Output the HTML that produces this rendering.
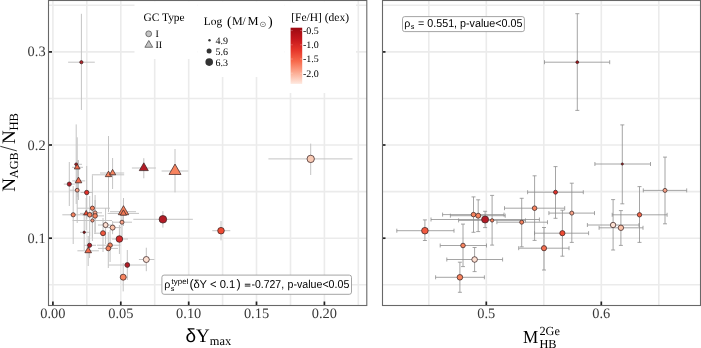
<!DOCTYPE html>
<html><head><meta charset="utf-8"><title>plot</title>
<style>html,body{margin:0;padding:0;background:#fff;width:701px;height:348px;overflow:hidden}svg{display:block;will-change:transform}text{text-rendering:geometricPrecision}</style>
</head><body>
<svg width="701" height="348" viewBox="0 0 701 348">
<rect width="701" height="348" fill="#fff"/>
<line x1="52.9" y1="0" x2="52.9" y2="305" stroke="#ebebeb" stroke-width="1.6"/>
<line x1="86.8" y1="0" x2="86.8" y2="305" stroke="#ebebeb" stroke-width="1.6"/>
<line x1="120.8" y1="0" x2="120.8" y2="305" stroke="#ebebeb" stroke-width="1.6"/>
<line x1="154.7" y1="0" x2="154.7" y2="305" stroke="#ebebeb" stroke-width="1.6"/>
<line x1="188.7" y1="0" x2="188.7" y2="305" stroke="#ebebeb" stroke-width="1.6"/>
<line x1="222.6" y1="0" x2="222.6" y2="305" stroke="#ebebeb" stroke-width="1.6"/>
<line x1="256.5" y1="0" x2="256.5" y2="305" stroke="#ebebeb" stroke-width="1.6"/>
<line x1="290.5" y1="0" x2="290.5" y2="305" stroke="#ebebeb" stroke-width="1.6"/>
<line x1="324.4" y1="0" x2="324.4" y2="305" stroke="#ebebeb" stroke-width="1.6"/>
<line x1="358.3" y1="0" x2="358.3" y2="305" stroke="#ebebeb" stroke-width="1.6"/>
<line x1="48" y1="284.8" x2="367" y2="284.8" stroke="#ebebeb" stroke-width="1.6"/>
<line x1="48" y1="238.2" x2="367" y2="238.2" stroke="#ebebeb" stroke-width="1.6"/>
<line x1="48" y1="191.6" x2="367" y2="191.6" stroke="#ebebeb" stroke-width="1.6"/>
<line x1="48" y1="145.0" x2="367" y2="145.0" stroke="#ebebeb" stroke-width="1.6"/>
<line x1="48" y1="98.5" x2="367" y2="98.5" stroke="#ebebeb" stroke-width="1.6"/>
<line x1="48" y1="51.9" x2="367" y2="51.9" stroke="#ebebeb" stroke-width="1.6"/>
<line x1="48" y1="5.3" x2="367" y2="5.3" stroke="#ebebeb" stroke-width="1.6"/>
<line x1="428.8" y1="0" x2="428.8" y2="305" stroke="#ebebeb" stroke-width="1.6"/>
<line x1="486.3" y1="0" x2="486.3" y2="305" stroke="#ebebeb" stroke-width="1.6"/>
<line x1="543.8" y1="0" x2="543.8" y2="305" stroke="#ebebeb" stroke-width="1.6"/>
<line x1="601.3" y1="0" x2="601.3" y2="305" stroke="#ebebeb" stroke-width="1.6"/>
<line x1="658.8" y1="0" x2="658.8" y2="305" stroke="#ebebeb" stroke-width="1.6"/>
<line x1="382" y1="284.8" x2="700" y2="284.8" stroke="#ebebeb" stroke-width="1.6"/>
<line x1="382" y1="238.2" x2="700" y2="238.2" stroke="#ebebeb" stroke-width="1.6"/>
<line x1="382" y1="191.6" x2="700" y2="191.6" stroke="#ebebeb" stroke-width="1.6"/>
<line x1="382" y1="145.0" x2="700" y2="145.0" stroke="#ebebeb" stroke-width="1.6"/>
<line x1="382" y1="98.5" x2="700" y2="98.5" stroke="#ebebeb" stroke-width="1.6"/>
<line x1="382" y1="51.9" x2="700" y2="51.9" stroke="#ebebeb" stroke-width="1.6"/>
<line x1="382" y1="5.3" x2="700" y2="5.3" stroke="#ebebeb" stroke-width="1.6"/>
<g stroke="#c4c4c4" stroke-width="1.0"><line x1="68.1" y1="62.2" x2="94.8" y2="62.2"/>
<line x1="81.4" y1="13.8" x2="81.4" y2="110.0"/>
<line x1="74.2" y1="164.3" x2="82.0" y2="164.3"/>
<line x1="76.2" y1="124.4" x2="76.2" y2="204.0"/>
<line x1="72.0" y1="167.3" x2="83.0" y2="167.3"/>
<line x1="77.2" y1="137.3" x2="77.2" y2="197.0"/>
<line x1="72.2" y1="180.9" x2="85.2" y2="180.9"/>
<line x1="78.5" y1="160.0" x2="78.5" y2="200.0"/>
<line x1="63.8" y1="184.1" x2="74.8" y2="184.1"/>
<line x1="69.3" y1="162.0" x2="69.3" y2="206.0"/>
<line x1="69.6" y1="190.2" x2="79.4" y2="190.2"/>
<line x1="77.2" y1="160.0" x2="77.2" y2="223.0"/>
<line x1="80.7" y1="192.5" x2="93.0" y2="192.5"/>
<line x1="86.7" y1="166.0" x2="86.7" y2="219.0"/>
<line x1="91.9" y1="174.8" x2="124.2" y2="174.8"/>
<line x1="108.5" y1="136.0" x2="108.5" y2="212.0"/>
<line x1="100.0" y1="173.0" x2="124.2" y2="173.0"/>
<line x1="112.6" y1="158.0" x2="112.6" y2="189.0"/>
<line x1="77.2" y1="208.2" x2="110.0" y2="208.2"/>
<line x1="92.4" y1="175.3" x2="92.4" y2="241.0"/>
<line x1="62.3" y1="214.8" x2="84.0" y2="214.8"/>
<line x1="73.2" y1="186.0" x2="73.2" y2="244.0"/>
<line x1="80.0" y1="213.4" x2="93.0" y2="213.4"/>
<line x1="86.2" y1="198.0" x2="86.2" y2="230.0"/>
<line x1="82.0" y1="214.8" x2="98.0" y2="214.8"/>
<line x1="89.7" y1="196.0" x2="89.7" y2="236.0"/>
<line x1="88.0" y1="212.8" x2="102.0" y2="212.8"/>
<line x1="95.1" y1="195.0" x2="95.1" y2="232.0"/>
<line x1="86.0" y1="215.9" x2="104.0" y2="215.9"/>
<line x1="95.1" y1="200.0" x2="95.1" y2="234.0"/>
<line x1="72.6" y1="220.5" x2="112.0" y2="220.5"/>
<line x1="92.4" y1="205.0" x2="92.4" y2="238.0"/>
<line x1="80.0" y1="232.3" x2="90.0" y2="232.3"/>
<line x1="84.2" y1="215.0" x2="84.2" y2="250.0"/>
<line x1="94.0" y1="233.2" x2="106.0" y2="233.2"/>
<line x1="103.0" y1="218.0" x2="103.0" y2="252.0"/>
<line x1="112.0" y1="239.0" x2="128.0" y2="239.0"/>
<line x1="119.4" y1="225.0" x2="119.4" y2="254.0"/>
<line x1="84.0" y1="245.3" x2="96.0" y2="245.3"/>
<line x1="89.6" y1="232.0" x2="89.6" y2="258.0"/>
<line x1="77.4" y1="250.8" x2="98.9" y2="250.8"/>
<line x1="88.2" y1="236.0" x2="88.2" y2="266.0"/>
<line x1="97.0" y1="245.2" x2="120.4" y2="245.2"/>
<line x1="110.1" y1="230.0" x2="110.1" y2="262.0"/>
<line x1="98.0" y1="248.4" x2="118.0" y2="248.4"/>
<line x1="108.3" y1="232.0" x2="108.3" y2="268.0"/>
<line x1="108.1" y1="265.0" x2="146.3" y2="265.0"/>
<line x1="127.3" y1="250.0" x2="127.3" y2="280.0"/>
<line x1="138.9" y1="259.5" x2="154.4" y2="259.5"/>
<line x1="146.3" y1="247.7" x2="146.3" y2="271.2"/>
<line x1="120.4" y1="277.2" x2="127.9" y2="277.2"/>
<line x1="123.2" y1="263.0" x2="123.2" y2="291.4"/>
<line x1="98.0" y1="225.0" x2="114.0" y2="225.0"/>
<line x1="105.6" y1="208.0" x2="105.6" y2="244.0"/>
<line x1="104.0" y1="227.6" x2="121.0" y2="227.6"/>
<line x1="112.6" y1="221.0" x2="112.6" y2="234.2"/>
<line x1="113.0" y1="222.2" x2="132.0" y2="222.2"/>
<line x1="122.0" y1="210.0" x2="122.0" y2="236.0"/>
<line x1="110.0" y1="211.7" x2="136.0" y2="211.7"/>
<line x1="123.5" y1="198.0" x2="123.5" y2="226.0"/>
<line x1="107.6" y1="213.4" x2="139.0" y2="213.4"/>
<line x1="123.4" y1="200.0" x2="123.4" y2="226.0"/>
<line x1="131.9" y1="168.0" x2="155.9" y2="168.0"/>
<line x1="143.8" y1="158.2" x2="143.8" y2="178.3"/>
<line x1="161.6" y1="171.0" x2="188.2" y2="171.0"/>
<line x1="175.0" y1="149.0" x2="175.0" y2="192.4"/>
<line x1="133.3" y1="219.3" x2="192.9" y2="219.3"/>
<line x1="162.9" y1="211.2" x2="162.9" y2="227.6"/>
<line x1="212.3" y1="230.7" x2="230.3" y2="230.7"/>
<line x1="221.0" y1="221.0" x2="221.0" y2="240.4"/>
<line x1="268.4" y1="158.9" x2="352.5" y2="158.9"/>
<line x1="310.7" y1="143.6" x2="310.7" y2="175.0"/></g>
<g stroke="#3c2626" stroke-width="0.75"><circle cx="81.4" cy="62.2" r="1.6" fill="#b8232a"/>
<circle cx="76.2" cy="164.3" r="1.4" fill="#b31b26"/>
<polygon points="77.20,163.95 74.30,168.97 80.10,168.97" fill="#f26a4b"/>
<polygon points="78.50,177.09 75.20,182.81 81.80,182.81" fill="#f26a4b"/>
<circle cx="69.3" cy="184.1" r="2.1" fill="#b31b26"/>
<circle cx="77.2" cy="190.2" r="1.9" fill="#fba488"/>
<circle cx="86.7" cy="192.5" r="2.2" fill="#e0302a"/>
<polygon points="108.50,171.10 105.30,176.65 111.70,176.65" fill="#f8845f"/>
<polygon points="112.60,169.42 109.50,174.79 115.70,174.79" fill="#f8845f"/>
<circle cx="92.4" cy="208.2" r="2.1" fill="#f8845f"/>
<circle cx="73.2" cy="214.8" r="2.1" fill="#f8845f"/>
<polygon points="86.20,210.40 83.60,214.90 88.80,214.90" fill="#ec4a30"/>
<circle cx="89.7" cy="214.8" r="2.3" fill="#f8845f"/>
<circle cx="95.1" cy="212.8" r="1.9" fill="#fba488"/>
<circle cx="95.1" cy="215.9" r="2.3" fill="#f8845f"/>
<circle cx="92.4" cy="220.5" r="1.6" fill="#f79070"/>
<circle cx="84.2" cy="232.3" r="1.2" fill="#8b0e15"/>
<circle cx="103.0" cy="233.2" r="2.5" fill="#f2593f"/>
<circle cx="119.4" cy="239.0" r="3.3" fill="#d42a2c"/>
<circle cx="89.6" cy="245.3" r="2.1" fill="#b31b26"/>
<polygon points="88.20,246.99 84.90,252.71 91.50,252.71" fill="#f26a4b"/>
<circle cx="110.1" cy="245.2" r="2.3" fill="#f8845f"/>
<circle cx="108.3" cy="248.4" r="2.4" fill="#f8845f"/>
<circle cx="127.3" cy="265.0" r="2.4" fill="#b31b26"/>
<circle cx="146.3" cy="259.5" r="3.0" fill="#fde0d2"/>
<circle cx="123.2" cy="277.2" r="3.0" fill="#f8845f"/>
<circle cx="105.6" cy="225.0" r="2.5" fill="#fde0d2"/>
<circle cx="112.6" cy="227.6" r="2.5" fill="#fcc2a8"/>
<circle cx="122.0" cy="222.2" r="2.0" fill="#fba488"/>
<polygon points="123.50,205.70 118.30,214.70 128.70,214.70" fill="#f8845f"/>
<polygon points="123.40,209.82 120.30,215.19 126.50,215.19" fill="#f27a55"/>
<polygon points="143.80,162.80 139.30,170.60 148.30,170.60" fill="#b31b26"/>
<polygon points="175.00,164.07 169.00,174.46 181.00,174.46" fill="#f8845f"/>
<circle cx="162.9" cy="219.3" r="3.8" fill="#b31b26"/>
<circle cx="221.0" cy="230.7" r="3.3" fill="#ef4a33"/>
<circle cx="310.7" cy="158.9" r="3.7" fill="#f9cab4"/></g>
<g stroke="#8e8e8e" stroke-width="0.8"><line x1="544.5" y1="62.2" x2="609.7" y2="62.2"/>
<line x1="544.5" y1="60.2" x2="544.5" y2="64.2"/>
<line x1="609.7" y1="60.2" x2="609.7" y2="64.2"/>
<line x1="577.3" y1="13.7" x2="577.3" y2="110.4"/>
<line x1="575.3" y1="13.7" x2="579.3" y2="13.7"/>
<line x1="575.3" y1="110.4" x2="579.3" y2="110.4"/>
<line x1="594.9" y1="164.0" x2="650.5" y2="164.0"/>
<line x1="594.9" y1="162.0" x2="594.9" y2="166.0"/>
<line x1="650.5" y1="162.0" x2="650.5" y2="166.0"/>
<line x1="622.3" y1="124.9" x2="622.3" y2="203.8"/>
<line x1="620.3" y1="124.9" x2="624.3" y2="124.9"/>
<line x1="620.3" y1="203.8" x2="624.3" y2="203.8"/>
<line x1="643.3" y1="190.4" x2="686.7" y2="190.4"/>
<line x1="643.3" y1="188.4" x2="643.3" y2="192.4"/>
<line x1="686.7" y1="188.4" x2="686.7" y2="192.4"/>
<line x1="665.0" y1="157.1" x2="665.0" y2="223.8"/>
<line x1="663.0" y1="157.1" x2="667.0" y2="157.1"/>
<line x1="663.0" y1="223.8" x2="667.0" y2="223.8"/>
<line x1="612.2" y1="214.8" x2="667.1" y2="214.8"/>
<line x1="612.2" y1="212.8" x2="612.2" y2="216.8"/>
<line x1="667.1" y1="212.8" x2="667.1" y2="216.8"/>
<line x1="639.5" y1="186.6" x2="639.5" y2="242.4"/>
<line x1="637.5" y1="186.6" x2="641.5" y2="186.6"/>
<line x1="637.5" y1="242.4" x2="641.5" y2="242.4"/>
<line x1="587.4" y1="225.0" x2="639.0" y2="225.0"/>
<line x1="587.4" y1="223.0" x2="587.4" y2="227.0"/>
<line x1="639.0" y1="223.0" x2="639.0" y2="227.0"/>
<line x1="613.1" y1="199.6" x2="613.1" y2="250.0"/>
<line x1="611.1" y1="199.6" x2="615.1" y2="199.6"/>
<line x1="611.1" y1="250.0" x2="615.1" y2="250.0"/>
<line x1="599.1" y1="227.8" x2="643.0" y2="227.8"/>
<line x1="599.1" y1="225.8" x2="599.1" y2="229.8"/>
<line x1="643.0" y1="225.8" x2="643.0" y2="229.8"/>
<line x1="620.9" y1="210.6" x2="620.9" y2="245.4"/>
<line x1="618.9" y1="210.6" x2="622.9" y2="210.6"/>
<line x1="618.9" y1="245.4" x2="622.9" y2="245.4"/>
<line x1="527.6" y1="192.2" x2="583.3" y2="192.2"/>
<line x1="527.6" y1="190.2" x2="527.6" y2="194.2"/>
<line x1="583.3" y1="190.2" x2="583.3" y2="194.2"/>
<line x1="555.5" y1="166.6" x2="555.5" y2="218.3"/>
<line x1="553.5" y1="166.6" x2="557.5" y2="166.6"/>
<line x1="553.5" y1="218.3" x2="557.5" y2="218.3"/>
<line x1="504.5" y1="208.2" x2="564.7" y2="208.2"/>
<line x1="504.5" y1="206.2" x2="504.5" y2="210.2"/>
<line x1="564.7" y1="206.2" x2="564.7" y2="210.2"/>
<line x1="534.6" y1="175.8" x2="534.6" y2="240.4"/>
<line x1="532.6" y1="175.8" x2="536.6" y2="175.8"/>
<line x1="532.6" y1="240.4" x2="536.6" y2="240.4"/>
<line x1="548.9" y1="213.1" x2="594.5" y2="213.1"/>
<line x1="548.9" y1="211.1" x2="548.9" y2="215.1"/>
<line x1="594.5" y1="211.1" x2="594.5" y2="215.1"/>
<line x1="571.8" y1="183.2" x2="571.8" y2="242.4"/>
<line x1="569.8" y1="183.2" x2="573.8" y2="183.2"/>
<line x1="569.8" y1="242.4" x2="573.8" y2="242.4"/>
<line x1="534.5" y1="233.2" x2="588.6" y2="233.2"/>
<line x1="534.5" y1="231.2" x2="534.5" y2="235.2"/>
<line x1="588.6" y1="231.2" x2="588.6" y2="235.2"/>
<line x1="562.4" y1="210.2" x2="562.4" y2="256.2"/>
<line x1="560.4" y1="210.2" x2="564.4" y2="210.2"/>
<line x1="560.4" y1="256.2" x2="564.4" y2="256.2"/>
<line x1="518.7" y1="248.2" x2="569.0" y2="248.2"/>
<line x1="518.7" y1="246.2" x2="518.7" y2="250.2"/>
<line x1="569.0" y1="246.2" x2="569.0" y2="250.2"/>
<line x1="544.0" y1="227.5" x2="544.0" y2="270.0"/>
<line x1="542.0" y1="227.5" x2="546.0" y2="227.5"/>
<line x1="542.0" y1="270.0" x2="546.0" y2="270.0"/>
<line x1="496.9" y1="222.2" x2="547.5" y2="222.2"/>
<line x1="496.9" y1="220.2" x2="496.9" y2="224.2"/>
<line x1="547.5" y1="220.2" x2="547.5" y2="224.2"/>
<line x1="521.7" y1="198.3" x2="521.7" y2="246.8"/>
<line x1="519.7" y1="198.3" x2="523.7" y2="198.3"/>
<line x1="519.7" y1="246.8" x2="523.7" y2="246.8"/>
<line x1="458.6" y1="220.4" x2="525.5" y2="220.4"/>
<line x1="458.6" y1="218.4" x2="458.6" y2="222.4"/>
<line x1="525.5" y1="218.4" x2="525.5" y2="222.4"/>
<line x1="492.1" y1="195.4" x2="492.1" y2="245.1"/>
<line x1="490.1" y1="195.4" x2="494.1" y2="195.4"/>
<line x1="490.1" y1="245.1" x2="494.1" y2="245.1"/>
<line x1="431.0" y1="219.5" x2="539.4" y2="219.5"/>
<line x1="431.0" y1="217.5" x2="431.0" y2="221.5"/>
<line x1="539.4" y1="217.5" x2="539.4" y2="221.5"/>
<line x1="485.1" y1="211.3" x2="485.1" y2="227.6"/>
<line x1="483.1" y1="211.3" x2="487.1" y2="211.3"/>
<line x1="483.1" y1="227.6" x2="487.1" y2="227.6"/>
<line x1="450.4" y1="215.7" x2="505.2" y2="215.7"/>
<line x1="450.4" y1="213.7" x2="450.4" y2="217.7"/>
<line x1="505.2" y1="213.7" x2="505.2" y2="217.7"/>
<line x1="478.2" y1="199.8" x2="478.2" y2="231.6"/>
<line x1="476.2" y1="199.8" x2="480.2" y2="199.8"/>
<line x1="476.2" y1="231.6" x2="480.2" y2="231.6"/>
<line x1="442.6" y1="214.6" x2="504.0" y2="214.6"/>
<line x1="442.6" y1="212.6" x2="442.6" y2="216.6"/>
<line x1="504.0" y1="212.6" x2="504.0" y2="216.6"/>
<line x1="473.5" y1="196.9" x2="473.5" y2="232.3"/>
<line x1="471.5" y1="196.9" x2="475.5" y2="196.9"/>
<line x1="471.5" y1="232.3" x2="475.5" y2="232.3"/>
<line x1="396.8" y1="230.7" x2="454.0" y2="230.7"/>
<line x1="396.8" y1="228.7" x2="396.8" y2="232.7"/>
<line x1="454.0" y1="228.7" x2="454.0" y2="232.7"/>
<line x1="424.9" y1="219.9" x2="424.9" y2="240.5"/>
<line x1="422.9" y1="219.9" x2="426.9" y2="219.9"/>
<line x1="422.9" y1="240.5" x2="426.9" y2="240.5"/>
<line x1="440.2" y1="245.5" x2="486.5" y2="245.5"/>
<line x1="440.2" y1="243.5" x2="440.2" y2="247.5"/>
<line x1="486.5" y1="243.5" x2="486.5" y2="247.5"/>
<line x1="463.0" y1="224.1" x2="463.0" y2="266.6"/>
<line x1="461.0" y1="224.1" x2="465.0" y2="224.1"/>
<line x1="461.0" y1="266.6" x2="465.0" y2="266.6"/>
<line x1="446.8" y1="259.5" x2="502.6" y2="259.5"/>
<line x1="446.8" y1="257.5" x2="446.8" y2="261.5"/>
<line x1="502.6" y1="257.5" x2="502.6" y2="261.5"/>
<line x1="474.6" y1="247.5" x2="474.6" y2="271.6"/>
<line x1="472.6" y1="247.5" x2="476.6" y2="247.5"/>
<line x1="472.6" y1="271.6" x2="476.6" y2="271.6"/>
<line x1="435.6" y1="277.3" x2="484.4" y2="277.3"/>
<line x1="435.6" y1="275.3" x2="435.6" y2="279.3"/>
<line x1="484.4" y1="275.3" x2="484.4" y2="279.3"/>
<line x1="459.9" y1="262.2" x2="459.9" y2="292.3"/>
<line x1="457.9" y1="262.2" x2="461.9" y2="262.2"/>
<line x1="457.9" y1="292.3" x2="461.9" y2="292.3"/></g>
<g stroke="#3c2626" stroke-width="0.75"><circle cx="577.3" cy="62.2" r="1.4" fill="#a81118"/>
<circle cx="622.3" cy="164.0" r="1.1" fill="#a81118"/>
<circle cx="665.0" cy="190.4" r="2.0" fill="#fba488"/>
<circle cx="639.5" cy="214.8" r="2.2" fill="#f26446"/>
<circle cx="613.1" cy="225.0" r="2.7" fill="#fde0d2"/>
<circle cx="620.9" cy="227.8" r="2.7" fill="#fcc2a8"/>
<circle cx="555.5" cy="192.2" r="2.0" fill="#e0302a"/>
<circle cx="534.6" cy="208.2" r="2.3" fill="#f8845f"/>
<circle cx="571.8" cy="213.1" r="2.0" fill="#fba488"/>
<circle cx="562.4" cy="233.2" r="2.6" fill="#ef4a33"/>
<circle cx="544.0" cy="248.2" r="2.6" fill="#f46f50"/>
<circle cx="521.7" cy="222.2" r="2.0" fill="#f8845f"/>
<circle cx="492.1" cy="220.4" r="1.7" fill="#f8845f"/>
<circle cx="485.1" cy="219.5" r="3.5" fill="#b31b26"/>
<circle cx="478.2" cy="215.7" r="2.5" fill="#f8845f"/>
<circle cx="473.5" cy="214.6" r="2.3" fill="#f8845f"/>
<circle cx="424.9" cy="230.7" r="3.3" fill="#f2593f"/>
<circle cx="463.0" cy="245.5" r="2.3" fill="#f8845f"/>
<circle cx="474.6" cy="259.5" r="2.8" fill="#fde0d2"/>
<circle cx="459.9" cy="277.3" r="2.8" fill="#f8845f"/></g>
<rect x="134.5" y="1.2" width="63" height="57.8" fill="#fff"/>
<rect x="197.5" y="1.2" width="87" height="75.8" fill="#fff"/>
<rect x="284.5" y="1.2" width="71.5" height="91.8" fill="#fff"/>
<text x="143.5" y="21.2" font-family='"Liberation Serif", serif' font-size="11.4" fill="#000">GC Type</text>
<circle cx="148.7" cy="33.8" r="2.9" fill="#c4c4c4" stroke="#555" stroke-width="0.8"/>
<polygon points="148.80,40.50 144.90,47.25 152.70,47.25" fill="#c4c4c4" stroke="#555" stroke-width="0.8"/>
<text x="155.5" y="37" font-family='"Liberation Serif", serif' font-size="10" fill="#000">I</text>
<text x="155.5" y="48" font-family='"Liberation Serif", serif' font-size="10" fill="#000">II</text>
<text x="203.8" y="25.4" font-family='"Liberation Serif", serif' font-size="11.4" fill="#000">Log</text>
<text x="226.9" y="25.9" font-family='"Liberation Serif", serif' font-size="14" fill="#000">(</text>
<text x="232.1" y="25.4" font-family='"Liberation Serif", serif' font-size="12" fill="#000">M</text>
<text x="242.5" y="25.4" font-family='"Liberation Serif", serif' font-size="11.4" fill="#000">/</text>
<text x="247.5" y="25.4" font-family='"Liberation Serif", serif' font-size="12.4" fill="#000">M</text>
<text x="259.5" y="26.6" font-family='"Liberation Serif", serif' font-size="8.2" fill="#555">⊙</text>
<text x="267.9" y="25.9" font-family='"Liberation Serif", serif' font-size="14" fill="#000">)</text>
<circle cx="209.5" cy="40.2" r="1.2" fill="#333"/>
<circle cx="209.1" cy="51.1" r="2.5" fill="#333"/>
<circle cx="209.2" cy="62.1" r="3.8" fill="#333"/>
<text x="215.5" y="43.8" font-family='"Liberation Serif", serif' font-size="10" fill="#000">4.9</text>
<text x="215.5" y="55.0" font-family='"Liberation Serif", serif' font-size="10" fill="#000">5.6</text>
<text x="215.5" y="66.3" font-family='"Liberation Serif", serif' font-size="10" fill="#000">6.3</text>
<defs><linearGradient id="cb" x1="0" y1="0" x2="0" y2="1"><stop offset="0" stop-color="#9c0a12"/><stop offset="0.2" stop-color="#c4161c"/><stop offset="0.4" stop-color="#e6362a"/><stop offset="0.6" stop-color="#f76a4c"/><stop offset="0.8" stop-color="#fcab92"/><stop offset="1" stop-color="#fee9e0"/></linearGradient></defs>
<rect x="290.6" y="27.7" width="11.6" height="56.2" fill="url(#cb)"/>
<text x="291.2" y="20.6" font-family='"Liberation Serif", serif' font-size="11.5" fill="#000">[Fe/H] (dex)</text>
<line x1="290.6" y1="30.6" x2="292.8" y2="30.6" stroke="#fff" stroke-opacity="0.5" stroke-width="0.5"/>
<line x1="300" y1="30.6" x2="302.2" y2="30.6" stroke="#fff" stroke-opacity="0.5" stroke-width="0.5"/>
<text x="302.9" y="34.0" font-family='"Liberation Serif", serif' font-size="10" fill="#000">-0.5</text>
<line x1="290.6" y1="44.8" x2="292.8" y2="44.8" stroke="#fff" stroke-opacity="0.5" stroke-width="0.5"/>
<line x1="300" y1="44.8" x2="302.2" y2="44.8" stroke="#fff" stroke-opacity="0.5" stroke-width="0.5"/>
<text x="302.9" y="48.2" font-family='"Liberation Serif", serif' font-size="10" fill="#000">-1.0</text>
<line x1="290.6" y1="59.0" x2="292.8" y2="59.0" stroke="#fff" stroke-opacity="0.5" stroke-width="0.5"/>
<line x1="300" y1="59.0" x2="302.2" y2="59.0" stroke="#fff" stroke-opacity="0.5" stroke-width="0.5"/>
<text x="302.9" y="62.4" font-family='"Liberation Serif", serif' font-size="10" fill="#000">-1.5</text>
<line x1="290.6" y1="73.2" x2="292.8" y2="73.2" stroke="#fff" stroke-opacity="0.5" stroke-width="0.5"/>
<line x1="300" y1="73.2" x2="302.2" y2="73.2" stroke="#fff" stroke-opacity="0.5" stroke-width="0.5"/>
<text x="302.9" y="76.6" font-family='"Liberation Serif", serif' font-size="10" fill="#000">-2.0</text>
<rect x="161.9" y="275.1" width="189.6" height="19.2" rx="2.2" fill="#fff" stroke="#9a9a9a" stroke-width="0.9"/>
<text x="164.3" y="287.7" font-family='"Liberation Sans", sans-serif' font-size="10.7" fill="#000">ρ</text>
<text x="170.8" y="291.2" font-family='"Liberation Sans", sans-serif' font-size="7.2" fill="#000">s</text>
<text x="171.6" y="284" font-family='"Liberation Sans", sans-serif' font-size="7.8" fill="#000" textLength="17.2" lengthAdjust="spacingAndGlyphs">typeI</text>
<text x="189.6" y="288.3" font-family='"Liberation Sans", sans-serif' font-size="12.6" fill="#000">(</text>
<text x="193.4" y="287.7" font-family='"Liberation Sans", sans-serif' font-size="11.4" fill="#000" textLength="41.8" lengthAdjust="spacingAndGlyphs">δY &lt; 0.1</text>
<text x="236.6" y="288.3" font-family='"Liberation Sans", sans-serif' font-size="12.6" fill="#000">)</text>
<rect x="244.8" y="283.7" width="5.6" height="1.1" fill="#333"/>
<rect x="244.8" y="285.5" width="5.6" height="1.1" fill="#333"/>
<text x="251.5" y="287.7" font-family='"Liberation Sans", sans-serif' font-size="11.4" fill="#000" textLength="32.6" lengthAdjust="spacingAndGlyphs">-0.727,</text>
<text x="287.5" y="287.7" font-family='"Liberation Sans", sans-serif' font-size="11.4" fill="#000" textLength="61.8" lengthAdjust="spacingAndGlyphs">p-value&lt;0.05</text>
<rect x="402.5" y="16.6" width="121.9" height="15" rx="2.2" fill="#fff" stroke="#9a9a9a" stroke-width="0.9"/>
<text x="404.2" y="27.3" font-family='"Liberation Sans", sans-serif' font-size="10.7" fill="#000">ρ</text>
<text x="410.7" y="29.2" font-family='"Liberation Sans", sans-serif' font-size="7.2" fill="#000">s</text>
<text x="418.0" y="27.3" font-family='"Liberation Sans", sans-serif' font-size="11.4" fill="#000" textLength="104.4" lengthAdjust="spacingAndGlyphs">= 0.551, p-value&lt;0.05</text>
<line x1="48" y1="238.2" x2="52" y2="238.2" stroke="#222" stroke-width="1.7"/>
<line x1="382" y1="238.2" x2="385.5" y2="238.2" stroke="#222" stroke-width="1.7"/>
<line x1="48" y1="145.0" x2="52" y2="145.0" stroke="#222" stroke-width="1.7"/>
<line x1="382" y1="145.0" x2="385.5" y2="145.0" stroke="#222" stroke-width="1.7"/>
<line x1="48" y1="51.9" x2="52" y2="51.9" stroke="#222" stroke-width="1.7"/>
<line x1="382" y1="51.9" x2="385.5" y2="51.9" stroke="#222" stroke-width="1.7"/>
<line x1="52.9" y1="301.5" x2="52.9" y2="305" stroke="#222" stroke-width="1.7"/>
<line x1="120.8" y1="301.5" x2="120.8" y2="305" stroke="#222" stroke-width="1.7"/>
<line x1="188.7" y1="301.5" x2="188.7" y2="305" stroke="#222" stroke-width="1.7"/>
<line x1="256.5" y1="301.5" x2="256.5" y2="305" stroke="#222" stroke-width="1.7"/>
<line x1="324.4" y1="301.5" x2="324.4" y2="305" stroke="#222" stroke-width="1.7"/>
<line x1="486.3" y1="301.5" x2="486.3" y2="305" stroke="#222" stroke-width="1.7"/>
<line x1="601.3" y1="301.5" x2="601.3" y2="305" stroke="#222" stroke-width="1.7"/>
<rect x="48.5" y="0.5" width="318.3" height="305" fill="none" stroke="#686868" stroke-width="1.1"/>
<rect x="382.5" y="0.5" width="318" height="305" fill="none" stroke="#686868" stroke-width="1.1"/>
<text x="45.6" y="242.7" text-anchor="end" font-family='"Liberation Serif", serif' font-size="14.4" fill="#383838">0.1</text>
<text x="45.6" y="149.5" text-anchor="end" font-family='"Liberation Serif", serif' font-size="14.4" fill="#383838">0.2</text>
<text x="45.6" y="56.4" text-anchor="end" font-family='"Liberation Serif", serif' font-size="14.4" fill="#383838">0.3</text>
<text x="52.9" y="318" text-anchor="middle" font-family='"Liberation Serif", serif' font-size="14.4" fill="#383838">0.00</text>
<text x="120.8" y="318" text-anchor="middle" font-family='"Liberation Serif", serif' font-size="14.4" fill="#383838">0.05</text>
<text x="188.7" y="318" text-anchor="middle" font-family='"Liberation Serif", serif' font-size="14.4" fill="#383838">0.10</text>
<text x="256.5" y="318" text-anchor="middle" font-family='"Liberation Serif", serif' font-size="14.4" fill="#383838">0.15</text>
<text x="324.4" y="318" text-anchor="middle" font-family='"Liberation Serif", serif' font-size="14.4" fill="#383838">0.20</text>
<text x="486.3" y="318" text-anchor="middle" font-family='"Liberation Serif", serif' font-size="14.4" fill="#383838">0.5</text>
<text x="601.3" y="318" text-anchor="middle" font-family='"Liberation Serif", serif' font-size="14.4" fill="#383838">0.6</text>
<text x="185.5" y="342" font-family='"Liberation Serif", serif' font-size="19" fill="#000"><tspan font-family='"Liberation Sans", sans-serif'>δ</tspan>Y<tspan font-size="12.4" dy="2.5">max</tspan></text>
<text x="522.9" y="342.8" font-family='"Liberation Serif", serif' font-size="18.4" fill="#000" textLength="15.2" lengthAdjust="spacingAndGlyphs">M</text>
<text x="539.4" y="334.6" font-family='"Liberation Serif", serif' font-size="12.3" fill="#000">2Ge</text>
<text x="539.4" y="348.3" font-family='"Liberation Serif", serif' font-size="12.3" fill="#000">HB</text>
<text transform="translate(14.9,191.5) rotate(-90)" x="-0.2" y="0" font-family='"Liberation Serif", serif' font-size="19" fill="#000">N</text>
<text transform="translate(17.8,191.5) rotate(-90)" x="13.3" y="0" font-family='"Liberation Serif", serif' font-size="12.3" fill="#000">AGB</text>
<line x1="16.8" y1="150.9" x2="0.3" y2="146.3" stroke="#111" stroke-width="0.85"/>
<text transform="translate(14.9,191.5) rotate(-90)" x="47.6" y="0" font-family='"Liberation Serif", serif' font-size="19" fill="#000">N</text>
<text transform="translate(17.8,191.5) rotate(-90)" x="61.0" y="0" font-family='"Liberation Serif", serif' font-size="12.6" fill="#000">HB</text>
</svg>
</body></html>
